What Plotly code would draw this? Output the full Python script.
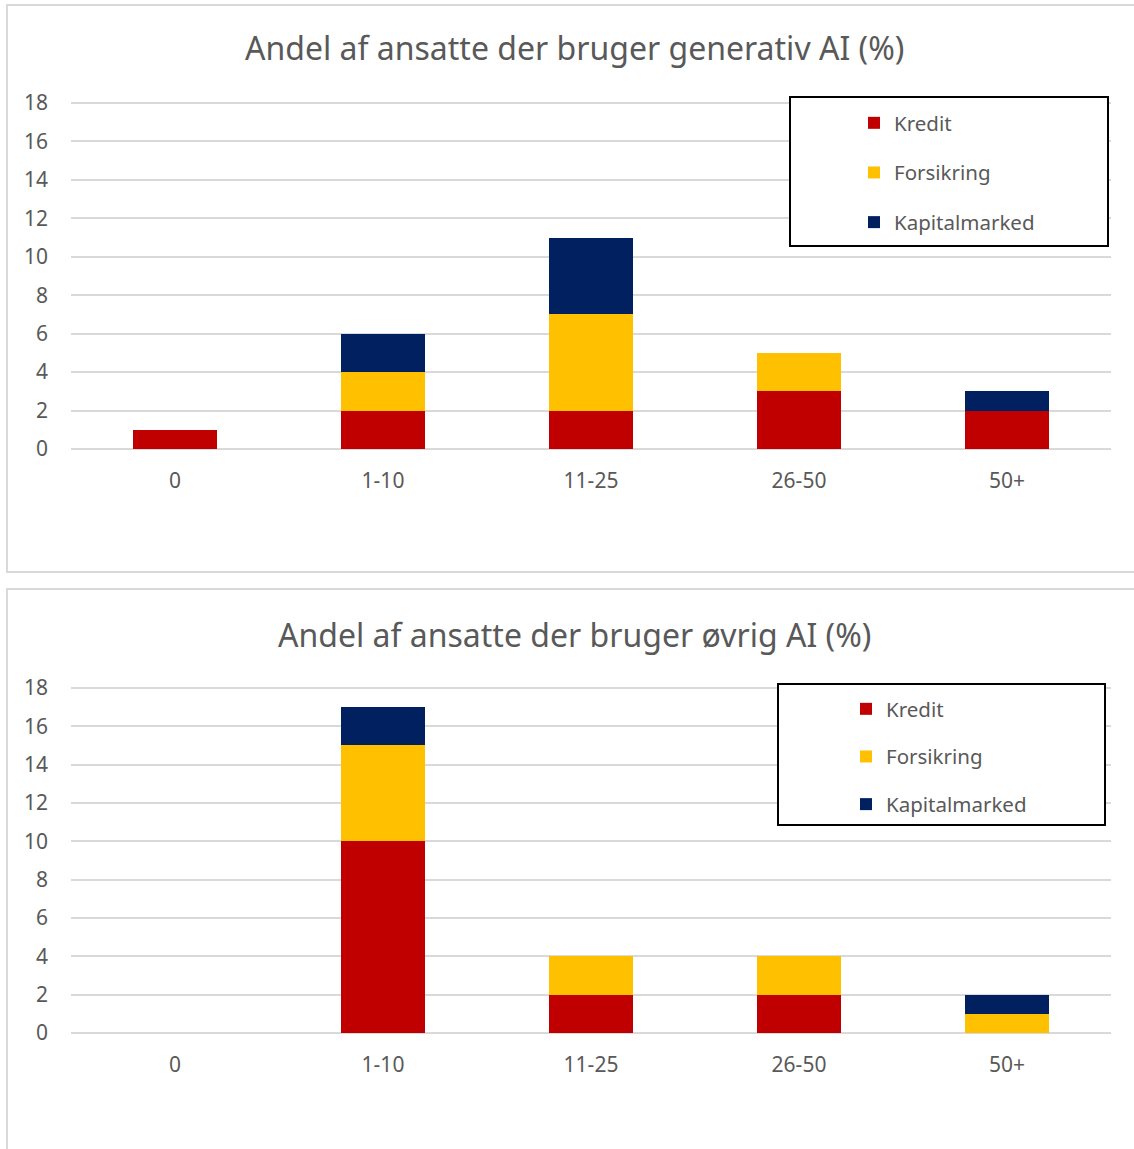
import plotly.graph_objects as go

W, H = 1134, 1149

categories = ["0", "1-10", "11-25", "26-50", "50+"]
series_names = ["Kredit", "Forsikring", "Kapitalmarked"]
colors = ["#C00000", "#FFC000", "#002060"]

gen_kredit = [1, 2, 2, 3, 2]
gen_forsikring = [0, 2, 5, 2, 0]
gen_kapital = [0, 2, 4, 0, 1]

ovr_kredit = [0, 10, 2, 2, 0]
ovr_forsikring = [0, 5, 2, 2, 1]
ovr_kapital = [0, 2, 0, 0, 1]

y_ticks = [0, 2, 4, 6, 8, 10, 12, 14, 16, 18]

title_top = "Andel af ansatte der bruger generativ AI (%)"
title_bottom = "Andel af ansatte der bruger øvrig AI (%)"

FONT = "Noto Sans"
TXT = "#595959"
GRID = "#D9D9D9"


def px(x):
    return x / W


def py(y):
    return 1 - y / H


fig = go.Figure()

for name, vals, col in zip(series_names, [gen_kredit, gen_forsikring, gen_kapital], colors):
    fig.add_trace(go.Bar(x=categories, y=vals, name=name, marker=dict(color=col, line=dict(width=0)),
                         xaxis="x", yaxis="y", legend="legend", legendgroup="t" + name))
for name, vals, col in zip(series_names, [ovr_kredit, ovr_forsikring, ovr_kapital], colors):
    fig.add_trace(go.Bar(x=categories, y=vals, name=name, marker=dict(color=col, line=dict(width=0)),
                         xaxis="x2", yaxis="y2", legend="legend2", legendgroup="b" + name))

YTOP = 18.2
unit_top = (449 - 103) / 18.0
unit_bot = (1033 - 688) / 18.0
xdom = [px(71), px(1111)]
common_x = dict(type="category", range=[-0.5, 4.5], showgrid=False, showline=False, zeroline=False,
                ticks="", tickfont=dict(family=FONT, size=21, color=TXT), ticklabelstandoff=17,
                fixedrange=True, automargin=False)
common_y = dict(range=[0, YTOP], tickvals=y_ticks, showgrid=True, gridcolor=GRID, gridwidth=1.5,
                zeroline=True, zerolinecolor=GRID, zerolinewidth=1.5, showline=False, ticks="",
                tickfont=dict(family=FONT, size=21, color=TXT), ticklabelstandoff=22, fixedrange=True,
                automargin=False)

legend_common = dict(font=dict(family=FONT, size=20.5, color=TXT), bgcolor="rgba(0,0,0,0)",
                     borderwidth=0, xanchor="left", yanchor="top", traceorder="grouped",
                     itemclick=False, itemdoubleclick=False)

fig.update_layout(
    width=W, height=H,
    margin=dict(l=0, r=0, t=0, b=0, pad=0, autoexpand=False),
    paper_bgcolor="white", plot_bgcolor="white",
    barmode="stack", bargap=0.6,
    xaxis=dict(common_x, domain=xdom, anchor="y"),
    yaxis=dict(common_y, domain=[py(449), py(449 - YTOP * unit_top)], anchor="x"),
    xaxis2=dict(common_x, domain=xdom, anchor="y2"),
    yaxis2=dict(common_y, domain=[py(1033), py(1033 - YTOP * unit_bot)], anchor="x2"),
    legend=dict(legend_common, x=px(854), y=py(103), tracegroupgap=20),
    legend2=dict(legend_common, x=px(846), y=py(689), tracegroupgap=18),
    showlegend=True,
    annotations=[
        dict(text=title_top, x=px(574), y=py(47), xref="paper", yref="paper", showarrow=False,
             xanchor="center", yanchor="middle", font=dict(family=FONT, size=32, color=TXT)),
        dict(text=title_bottom, x=px(574), y=py(634), xref="paper", yref="paper", showarrow=False,
             xanchor="center", yanchor="middle", font=dict(family=FONT, size=32, color=TXT)),
    ],
    shapes=[
        dict(type="rect", xref="paper", yref="paper", x0=px(7), x1=px(1140), y0=py(572), y1=py(5),
             line=dict(color=GRID, width=2), fillcolor="rgba(0,0,0,0)", layer="below"),
        dict(type="rect", xref="paper", yref="paper", x0=px(7), x1=px(1140), y0=py(1160), y1=py(589),
             line=dict(color=GRID, width=2), fillcolor="rgba(0,0,0,0)", layer="below"),
        dict(type="rect", xref="paper", yref="paper", x0=px(790), x1=px(1108), y0=py(246), y1=py(97),
             line=dict(color="black", width=2), fillcolor="white", layer="above"),
        dict(type="rect", xref="paper", yref="paper", x0=px(778), x1=px(1105), y0=py(825), y1=py(684),
             line=dict(color="black", width=2), fillcolor="white", layer="above"),
    ],
)

post = "document.body.style.margin='0';"

fig.write_html("out.html", post_script=post, config={"displayModeBar": False})
